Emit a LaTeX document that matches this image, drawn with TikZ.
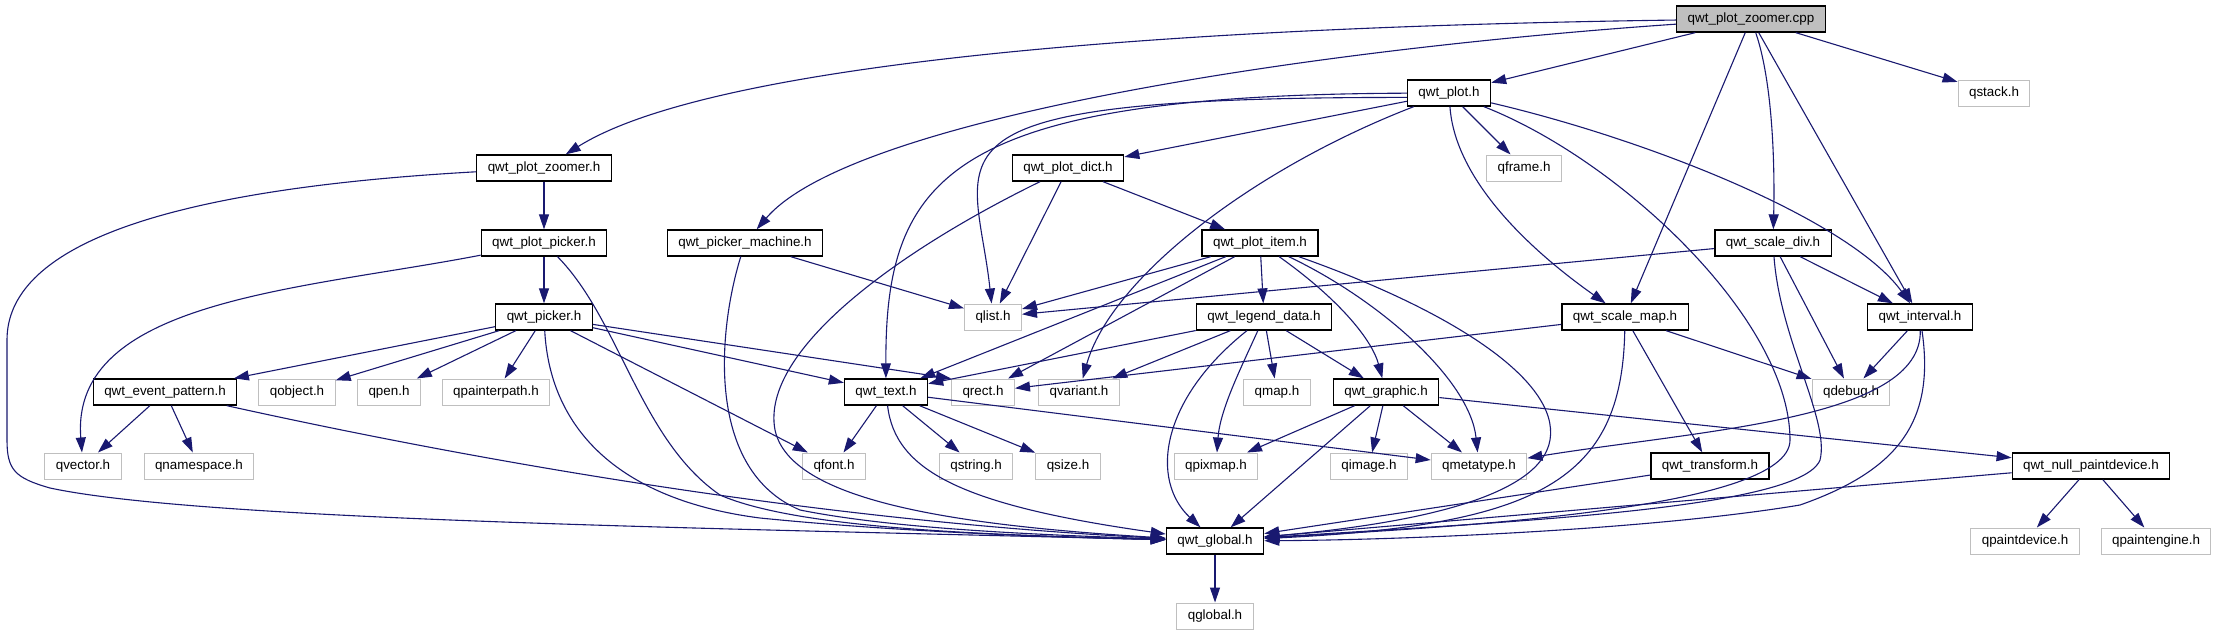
\documentclass[tikz,border=0pt]{standalone}
\usepackage{fontspec}
\setmainfont{Liberation Sans}
\usetikzlibrary{arrows.meta}
\definecolor{edgeblue}{RGB}{25,25,112}
\definecolor{extgray}{RGB}{191,191,191}

\begin{document}
\begin{tikzpicture}[x=1pt,y=-1pt,
  hdr/.style={draw=black,line width=1.3pt,fill=white,minimum height=26pt,inner xsep=11pt,inner ysep=0pt,font=\fontsize{13.4}{16}\selectfont},
  ext/.style={hdr,draw=extgray,line width=1pt},
  src/.style={hdr,fill=extgray},
  dep/.style={draw=edgeblue,line width=1.1pt,-{Triangle[length=15pt,width=10pt]}}]
\fill[white] (0,0) rectangle (2215,635);
\useasboundingbox (0,0) rectangle (2215,635);
\node[src] (cpp) at (1751,19) {qwt\_plot\_zoomer.cpp};
\node[hdr] (zoomer) at (544,168) {qwt\_plot\_zoomer.h};
\node[hdr] (plotpicker) at (544,243) {qwt\_plot\_picker.h};
\node[hdr] (machine) at (745,243) {qwt\_picker\_machine.h};
\node[hdr] (picker) at (544,317) {qwt\_picker.h};
\node[hdr] (plot) at (1449,93) {qwt\_plot.h};
\node[hdr] (dict) at (1068,168) {qwt\_plot\_dict.h};
\node[hdr] (item) at (1260,243) {qwt\_plot\_item.h};
\node[ext] (qlist) at (993,317) {qlist.h};
\node[hdr] (legend) at (1264,317) {qwt\_legend\_data.h};
\node[ext] (qstack) at (1994,93) {qstack.h};
\node[ext] (qframe) at (1524,168) {qframe.h};
\node[hdr] (scalediv) at (1773,243) {qwt\_scale\_div.h};
\node[hdr] (scalemap) at (1625,317) {qwt\_scale\_map.h};
\node[hdr] (interval) at (1920,317) {qwt\_interval.h};
\node[hdr] (event) at (165,392) {qwt\_event\_pattern.h};
\node[ext] (qobject) at (297,392) {qobject.h};
\node[ext] (qpen) at (389,392) {qpen.h};
\node[ext] (qpainterpath) at (496,392) {qpainterpath.h};
\node[ext] (qvector) at (83,466) {qvector.h};
\node[ext] (qnamespace) at (199,466) {qnamespace.h};
\node[hdr] (text) at (886,392) {qwt\_text.h};
\node[ext] (qrect) at (983,392) {qrect.h};
\node[ext] (qvariant) at (1079,392) {qvariant.h};
\node[ext] (qmap) at (1277,392) {qmap.h};
\node[hdr] (graphic) at (1386,392) {qwt\_graphic.h};
\node[ext] (qfont) at (834,466) {qfont.h};
\node[ext] (qstring) at (976,466) {qstring.h};
\node[ext] (qsize) at (1068,466) {qsize.h};
\node[ext] (qpixmap) at (1216,466) {qpixmap.h};
\node[ext] (qimage) at (1369,466) {qimage.h};
\node[ext] (qmetatype) at (1479,466) {qmetatype.h};
\node[ext] (qdebug) at (1851,392) {qdebug.h};
\node[hdr] (transform) at (1710,466) {qwt\_transform.h};
\node[hdr] (nullpd) at (2091,466) {qwt\_null\_paintdevice.h};
\node[hdr] (global) at (1215,541) {qwt\_global.h};
\node[ext] (qglobal) at (1215,616) {qglobal.h};
\node[ext] (qpaintdevice) at (2025,541) {qpaintdevice.h};
\node[ext] (qpaintengine) at (2156,541) {qpaintengine.h};
\foreach \a/\b in {cpp/plot,cpp/scalemap,cpp/interval,cpp/qstack,zoomer/plotpicker,plotpicker/picker,
  machine/qlist,picker/event,picker/qobject,picker/qpen,picker/qpainterpath,picker/text,picker/qfont,
  event/qvector,event/qnamespace,plot/dict,plot/qframe,dict/item,dict/qlist,item/qlist,item/text,
  item/qrect,item/legend,legend/text,legend/qvariant,legend/qmap,legend/graphic,text/qfont,text/qstring,
  text/qsize,text/qmetatype,graphic/qpixmap,graphic/global,graphic/qimage,graphic/qmetatype,graphic/nullpd,
  scalemap/qrect,scalemap/transform,scalemap/qdebug,scalediv/qlist,scalediv/interval,scalediv/qdebug,
  interval/qdebug,transform/global,nullpd/qpaintdevice,nullpd/qpaintengine,nullpd/global,global/qglobal}
  \draw[dep] (\a) -- (\b);
\draw[dep] (picker) -- (qrect.north west);
\draw[dep] (cpp) .. controls (1100,28) and (700,70) .. (zoomer);
\draw[dep] (cpp) .. controls (1300,50) and (850,120) .. (machine);
\draw[dep] (cpp) .. controls (1772,80) and (1775,160) .. (scalediv);
\draw[dep] (zoomer) .. controls (150,190) and (7,250) .. (7,340) -- (7,440) .. controls (7,470) and (15,478) .. (50,488) .. controls (200,520) and (700,528) .. (global);
\draw[dep] (plotpicker) .. controls (300,290) and (70,300) .. (qvector);
\draw[dep] (plotpicker) .. controls (620,320) and (640,440) .. (720,495) .. controls (800,530) and (1000,535) .. (global);
\draw[dep] (machine) .. controls (718,330) and (705,470) .. (800,510) .. controls (900,530) and (1050,535) .. (global);
\draw[dep] (picker) .. controls (550,430) and (620,500) .. (760,518) .. controls (900,532) and (1050,537) .. (global);
\draw[dep] (event) .. controls (450,455) and (800,520) .. (global);
\draw[dep] (plot) .. controls (950,95) and (885,175) .. (text);
\draw[dep] (plot.186) .. controls (900,97) and (975,150) .. (qlist);
\draw[dep] (plot) .. controls (1250,170) and (1110,280) .. (qvariant);
\draw[dep] (plot) .. controls (1455,180) and (1530,250) .. (scalemap);
\draw[dep] (plot) .. controls (1650,140) and (1850,220) .. (interval);
\draw[dep] (plot) .. controls (1620,160) and (1790,320) .. (1790,440) .. controls (1790,510) and (1450,527) .. (global);
\draw[dep] (dict) .. controls (900,250) and (760,350) .. (775,430) .. controls (790,500) and (950,525) .. (global);
\draw[dep] (item) .. controls (1340,300) and (1372,340) .. (graphic);
\draw[dep] (item) .. controls (1380,300) and (1470,380) .. (qmetatype);
\draw[dep] (item) .. controls (1450,310) and (1560,380) .. (1550,440) .. controls (1540,500) and (1400,525) .. (global);
\draw[dep] (legend) .. controls (1160,400) and (1150,480) .. (global);
\draw[dep] (legend) .. controls (1240,370) and (1220,410) .. (qpixmap);
\draw[dep] (text) .. controls (895,470) and (960,505) .. (global);
\draw[dep] (scalemap) .. controls (1622,480) and (1540,525) .. (global);
\draw[dep] (scalediv) .. controls (1780,340) and (1830,420) .. (1820,460) .. controls (1800,510) and (1500,522) .. (global);
\draw[dep] (interval) .. controls (1922,420) and (1700,430) .. (qmetatype);
\draw[dep] (interval) .. controls (1935,420) and (1900,470) .. (1800,505) .. controls (1650,530) and (1400,540) .. (global);
\end{tikzpicture}
\end{document}
